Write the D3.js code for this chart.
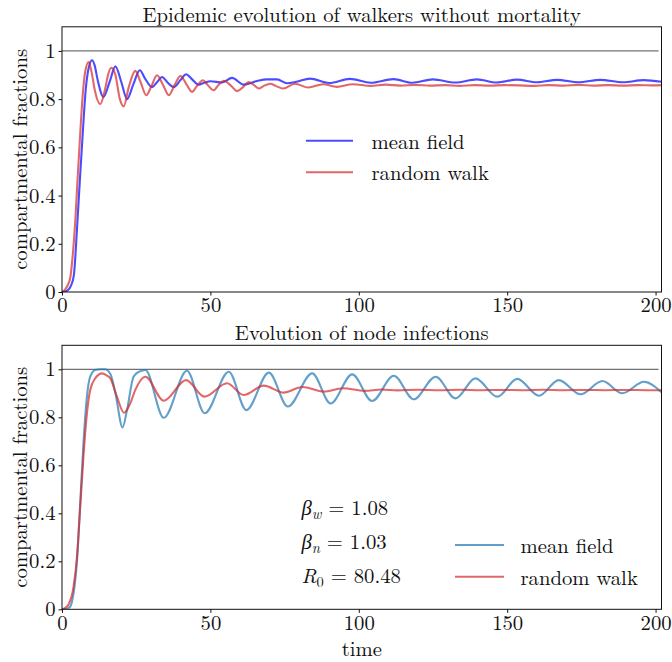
<!DOCTYPE html>
<html><head><meta charset="utf-8">
<script src="https://cdn.jsdelivr.net/npm/d3@7"></script>
<style>body{margin:0;background:#fff;}</style>
</head>
<body><svg id="chart" width="672" height="662"></svg>
<script>
// ---------- DATA ----------
const xTicks = [0, 50, 100, 150, 200];
const yTicks = [0, 0.2, 0.4, 0.6, 0.8, 1];
const titles = ["Epidemic evolution of walkers without mortality", "Evolution of node infections"];
const seriesNames = ["mean field", "random walk"];

// Top panel: walkers, mean field
const walkMFt = [0,1,2,3,4,5,6,7,8,9,10.1,11,12,14,16,18,20,21.9,24,26.2,28,30.3,32,33.7,35.5,37.6,40,41.8,44,46,48,50,54,57.3,61.2,65.7,69,72.5,75.8,79,83.6,90,97,104,111.7,118,125,132.5,139.8,146.5,153.3,160,166.8,174,181.4,189,196,202];
const walkMFv = [0,0.002,0.008,0.025,0.07,0.25,0.46,0.66,0.84,0.93,0.961,0.94,0.88,0.809,0.87,0.936,0.87,0.80,0.86,0.92,0.885,0.85,0.87,0.892,0.87,0.85,0.88,0.903,0.88,0.86,0.868,0.874,0.869,0.888,0.860,0.875,0.882,0.882,0.866,0.872,0.885,0.867,0.884,0.868,0.883,0.868,0.882,0.869,0.882,0.869,0.881,0.870,0.880,0.870,0.880,0.870,0.879,0.872];
// Top panel: walkers, random walk
const walkRWt = [0,1,2,2.8,3.6,4.5,5.3,6.2,7,7.9,9,10,11,12.9,14.5,15.5,16.6,18,19.5,20.8,22.5,24.7,26.5,28.4,30,32,34,36,38,39.9,42,43.8,45.5,47.5,49,51.1,52.8,54.5,57,59,61,62.9,64.5,66.3,68,70.2,72,74.5,78.5,83,88,92.6,98,104,109,114,119,124,129,134,139,144,149,154,159,164,169,174,179,184,189,194,199,202];
const walkRWv = [0,0.01,0.03,0.06,0.15,0.30,0.48,0.67,0.82,0.92,0.954,0.91,0.84,0.779,0.84,0.90,0.93,0.90,0.80,0.77,0.85,0.917,0.87,0.816,0.85,0.899,0.86,0.816,0.86,0.896,0.86,0.83,0.855,0.878,0.86,0.837,0.86,0.876,0.855,0.833,0.85,0.871,0.86,0.844,0.855,0.864,0.855,0.844,0.864,0.848,0.862,0.851,0.862,0.855,0.860,0.856,0.859,0.856,0.858,0.855,0.858,0.856,0.858,0.857,0.855,0.858,0.856,0.859,0.856,0.858,0.856,0.858,0.857,0.858];

// Bottom panel: nodes, mean field
const nodeMFt = [0,1,2,2.8,3.9,5.06,6.2,7.3,8.4,9.5,11.2,13,14.5,16.3,18,20.4,21.9,24.1,26,28.1,34.3,42.1,48.1,56.2,62.1,69.7,76.1,84.3,90.5,97.8,104.5,111.8,118.5,125.9,132.6,139.3,146.7,153.4,160.7,167.4,174.7,182.1,188.8,196.1,202];
const nodeMFv = [0,0.001,0.004,0.011,0.067,0.205,0.455,0.705,0.886,0.969,0.997,1.0,1.0,0.98,0.90,0.758,0.83,0.969,0.99,0.997,0.798,0.994,0.817,0.99,0.83,0.986,0.845,0.983,0.858,0.979,0.868,0.973,0.875,0.969,0.879,0.962,0.886,0.960,0.890,0.955,0.896,0.951,0.900,0.948,0.905];
// Bottom panel: nodes, random walk
const nodeRWt = [0,1,2.2,3.9,5.06,6.2,7.3,8.4,9.5,11.2,13.5,15,16.3,18.5,20.9,23,24.7,28.1,34.3,41.8,48,55.6,61.2,68,74.7,81,88.2,94.6,102,107.6,113,120,127,134,141,148,155,162,169,176,183,190,197,202];
const nodeRWv = [0,0.005,0.02,0.094,0.22,0.44,0.65,0.817,0.914,0.962,0.983,0.975,0.962,0.886,0.819,0.858,0.914,0.969,0.869,0.955,0.886,0.942,0.893,0.932,0.903,0.926,0.907,0.921,0.910,0.916,0.912,0.915,0.913,0.915,0.913,0.914,0.913,0.915,0.913,0.914,0.913,0.914,0.913,0.913];

const annot = [["β","w"," = 1.08"],["β","n"," = 1.03"],["R","0"," = 80.48"]];

// ---------- DRAW ----------
const FONT = '"Latin Modern Roman","CMU Serif","Liberation Serif",serif';
const FS = 20.7;
const svg = d3.select("#chart");
const left = 62, right = 661.5;
const panels = [
  {top: 26.8, bottom: 292, title: titles[0], titleY: 22,
   series: [{t: walkMFt, v: walkMFv, color: "#0000ff"}, {t: walkRWt, v: walkRWv, color: "#d62728"}],
   legend: {x0: 306, x1: 353, y: 140.7, dy: 31.6, tx: 371.5}},
  {top: 345.3, bottom: 609.3, title: titles[1], titleY: 340,
   series: [{t: nodeMFt, v: nodeMFv, color: "#1f77b4"}, {t: nodeRWt, v: nodeRWv, color: "#d62728"}],
   legend: {x0: 455, x1: 504, y: 545, dy: 31.7, tx: 520.5}}
];
const x = d3.scaleLinear().domain([0, 202]).range([left, right]);

function txt(sel) { return sel.style("font-family", FONT).attr("fill", "#111"); }

panels.forEach((p, i) => {
  const y = d3.scaleLinear().domain([0, 1.1]).range([p.bottom, p.top]);
  const g = svg.append("g");
  const clipId = "clip" + i;
  svg.append("clipPath").attr("id", clipId).append("rect")
    .attr("x", left).attr("y", p.top).attr("width", right - left).attr("height", p.bottom - p.top);

  g.append("line").attr("x1", x(0)).attr("x2", x(201)).attr("y1", y(1)).attr("y2", y(1))
    .attr("stroke", "#707070").attr("stroke-width", 1.2);

  const line = d3.line().x(d => x(d[0])).y(d => y(d[1])).curve(d3.curveMonotoneX);
  p.series.forEach(s => {
    const pts = s.t.map((t, k) => [t, s.v[k]]);
    g.append("path").datum(pts).attr("d", line).attr("fill", "none")
      .attr("stroke", s.color).attr("stroke-opacity", 0.7).attr("stroke-width", 2.1)
      .attr("clip-path", `url(#${clipId})`);
  });

  g.append("rect").attr("x", left).attr("y", p.top).attr("width", right - left).attr("height", p.bottom - p.top)
    .attr("fill", "none").attr("stroke", "#111").attr("stroke-width", 1);

  const xa = g.append("g").attr("transform", `translate(0,${p.bottom})`)
    .call(d3.axisBottom(x).tickValues(xTicks).tickSize(3.5).tickPadding(2).tickFormat(d3.format("d")));
  const ya = g.append("g").attr("transform", `translate(${left},0)`)
    .call(d3.axisLeft(y).tickValues(yTicks).tickSize(3.5).tickPadding(3)
      .tickFormat(d => d === 0 ? "0" : d === 1 ? "1" : d.toFixed(1)));
  [xa, ya].forEach(a => {
    a.select(".domain").remove();
    a.selectAll("line").attr("stroke", "#111");
    a.selectAll("text").attr("font-size", FS).call(txt);
  });

  g.append("text").attr("x", (left + right) / 2).attr("y", p.titleY).attr("text-anchor", "middle")
    .attr("font-size", FS).call(txt).text(p.title);

  g.append("text").attr("transform", `translate(27,${(p.top + p.bottom) / 2}) rotate(-90)`)
    .attr("text-anchor", "middle").attr("font-size", FS).call(txt).text("compartmental fractions");

  p.series.forEach((s, k) => {
    const ly = p.legend.y + k * p.legend.dy;
    g.append("line").attr("x1", p.legend.x0).attr("x2", p.legend.x1).attr("y1", ly).attr("y2", ly)
      .attr("stroke", s.color).attr("stroke-opacity", 0.7).attr("stroke-width", 2.1);
    g.append("text").attr("x", p.legend.tx).attr("y", ly + 8).attr("font-size", FS).call(txt).text(seriesNames[k]);
  });
});

svg.append("text").attr("x", (left + right) / 2).attr("y", 656).attr("text-anchor", "middle")
  .attr("font-size", FS).call(txt).text("time");

annot.forEach((a, k) => {
  const t = svg.append("text").attr("x", 301.5).attr("y", 515 + k * 34).attr("font-size", FS).call(txt);
  t.append("tspan").attr("font-style", "italic").text(a[0]);
  t.append("tspan").attr("font-size", 14.5).attr("dy", 3.5).attr("font-style", a[1] === "0" ? "normal" : "italic").text(a[1]);
  t.append("tspan").attr("dy", -3.5).text(a[2]);
});
</script></body></html>
